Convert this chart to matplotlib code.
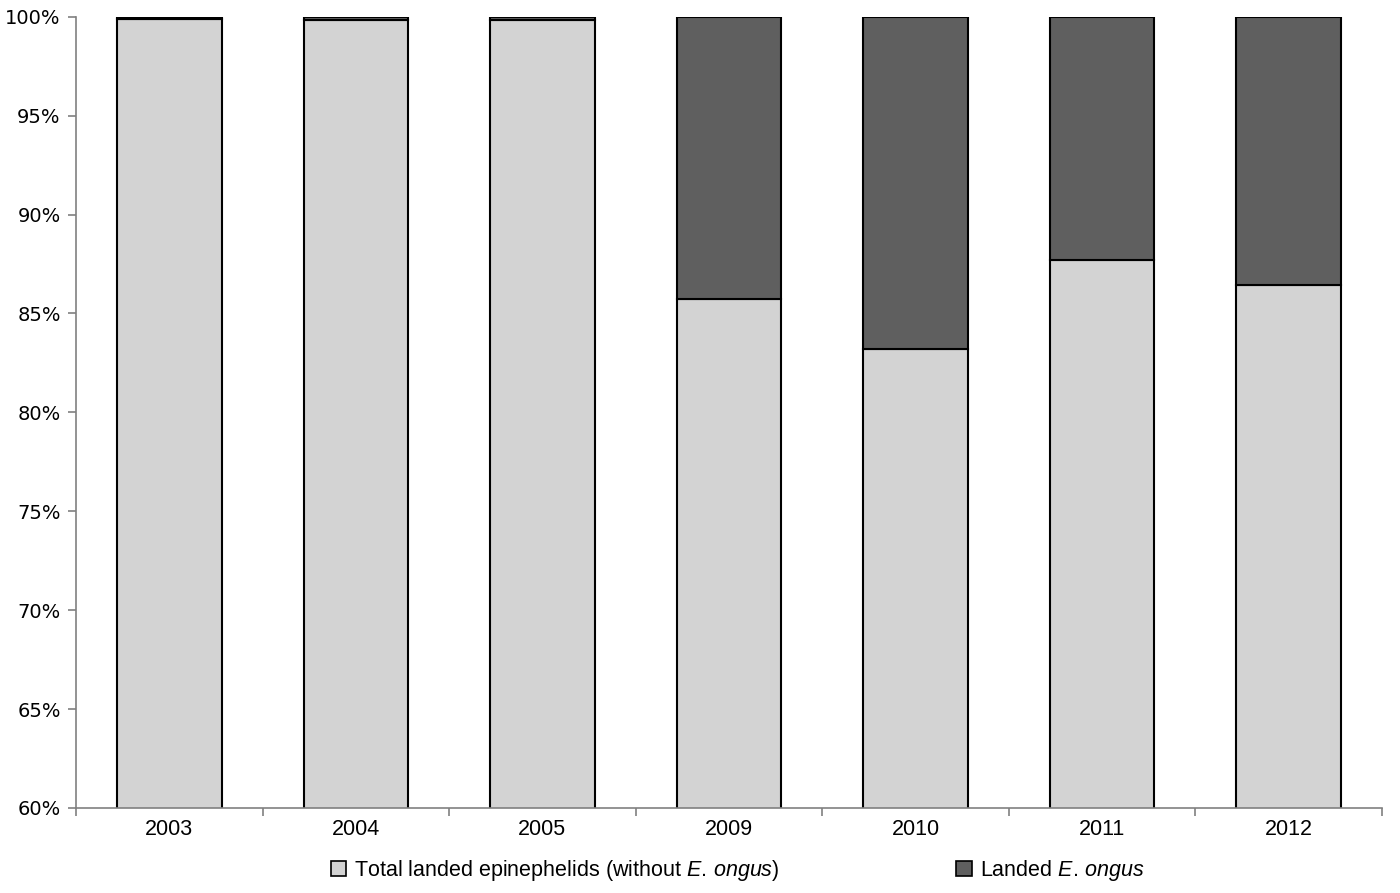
import matplotlib.pyplot as plt
import numpy as np
from matplotlib.patches import Patch
from matplotlib.ticker import FixedLocator, PercentFormatter

plt.rcParams['font.family'] = ['Liberation Sans', 'DejaVu Sans']
plt.rcParams['mathtext.fontset'] = 'custom'
plt.rcParams['mathtext.rm'] = 'Liberation Sans'
plt.rcParams['mathtext.it'] = 'Liberation Sans:italic'

years = ["2003", "2004", "2005", "2009", "2010", "2011", "2012"]
# share (%) of landed epinephelids without E. ongus
other_pct = [99.9, 99.85, 99.85, 85.75, 83.2, 87.7, 86.45]
ongus_pct = [100 - v for v in other_pct]

light = "#d3d3d3"
dark = "#5f5f5f"

fig = plt.figure(figsize=(14, 8.93), dpi=100)
ax = fig.add_axes([0.0543, 0.0952, 0.9327, 0.886])

x = np.arange(len(years))
ax.bar(x, other_pct, width=0.56, color=light, edgecolor="black", linewidth=1.5)
ax.bar(x, ongus_pct, width=0.56, bottom=other_pct, color=dark,
       edgecolor="black", linewidth=1.5)

ax.set_ylim(60, 100)
ax.set_xlim(-0.5, len(years) - 0.5)
ax.set_yticks(np.arange(60, 101, 5))
ax.yaxis.set_major_formatter(PercentFormatter(decimals=0))
for lab in ax.get_yticklabels():
    lab.set_fontfamily("DejaVu Sans")
ax.tick_params(axis="y", labelsize=14, length=6, color="#808080", width=1.2, pad=5)

ax.set_xticks(x)
ax.set_xticklabels(years, fontsize=15.5)
ax.tick_params(axis="x", length=0, pad=8)
ax.xaxis.set_minor_locator(FixedLocator(np.arange(-0.5, len(years), 1)))
ax.tick_params(axis="x", which="minor", length=6, color="#808080", width=1.2)

for s in ["top", "right"]:
    ax.spines[s].set_visible(False)
for s in ["left", "bottom"]:
    ax.spines[s].set_color("#808080")
    ax.spines[s].set_linewidth(1.2)

handles = [
    Patch(facecolor=light, edgecolor="black", linewidth=1.2,
          label=r"Total landed epinephelids (without $\it{E.\,ongus}$)"),
    Patch(facecolor=dark, edgecolor="black", linewidth=1.2,
          label=r"Landed $\it{E.\,ongus}$"),
]
fig.legend(handles=handles, loc="center", bbox_to_anchor=(0.527, 0.025), ncol=2,
           frameon=False, fontsize=15.5, handlelength=0.7, handleheight=0.7,
           handletextpad=0.4, columnspacing=8.2)

fig.savefig("out.png", dpi=100)
